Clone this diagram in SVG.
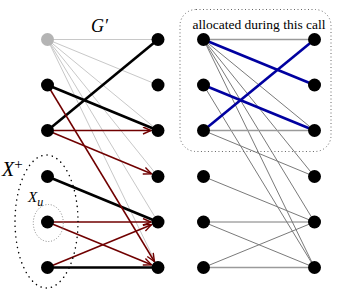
<svg xmlns="http://www.w3.org/2000/svg" width="341" height="295" viewBox="0 0 341 295">
<defs>
<style>
.n{fill:#000}
.ng{fill:#b4b4b4}
.lg{stroke:#c8c8c8;stroke-width:1;fill:none}
.bk{stroke:#000;stroke-width:2.6;fill:none}
.rd{stroke:#700000;stroke-width:1.5;fill:none;marker-end:url(#ah)}
.gr{stroke:#7a7a7a;stroke-width:1;fill:none}
.grh{stroke:#9a9a9a;stroke-width:1.5;fill:none}
.bl{stroke:#0000a0;stroke-width:2.6;fill:none}
.lbl{font-family:"Liberation Serif","Times New Roman",serif;fill:#000}
</style>
<marker id="ah" markerUnits="userSpaceOnUse" markerWidth="12" markerHeight="10" refX="9" refY="4" orient="auto">
<path d="M1,0.5 L9,4 L1,7.5" fill="none" stroke="#700000" stroke-width="1.4"/>
</marker>
</defs>
<g id="connectors">
<g id="left-gray">
<line class="lg" x1="47.5" y1="39.5" x2="158" y2="39.5"/>
<line class="lg" x1="47.5" y1="39.5" x2="158" y2="85"/>
<line class="lg" x1="47.5" y1="39.5" x2="158" y2="130.5"/>
<line class="lg" x1="47.5" y1="39.5" x2="158" y2="176.5"/>
<line class="lg" x1="47.5" y1="39.5" x2="158" y2="222"/>
<line class="lg" x1="47.5" y1="39.5" x2="158" y2="267.5"/>
</g>
<g id="left-black">
<line class="bk" x1="47.5" y1="130.5" x2="158" y2="39.5"/>
<line class="bk" x1="47.5" y1="85" x2="158" y2="130.5"/>
<line class="bk" x1="47.5" y1="176.5" x2="158" y2="222"/>
<line class="bk" x1="47.5" y1="267.5" x2="158" y2="267.5"/>
</g>
<g id="left-red">
<line class="rd" x1="47.5" y1="85" x2="154.4" y2="261.5"/>
<line class="rd" x1="47.5" y1="130.5" x2="151" y2="130.5"/>
<line class="rd" x1="47.5" y1="130.5" x2="151.5" y2="173.8"/>
<line class="rd" x1="47.5" y1="222" x2="151" y2="222"/>
<line class="rd" x1="47.5" y1="222" x2="151.5" y2="264.8"/>
<line class="rd" x1="47.5" y1="267.5" x2="151.5" y2="224.7"/>
</g>
<g id="right-gray">
<line class="grh" x1="203.5" y1="39.5" x2="314.5" y2="39.5"/>
<line class="gr" x1="203.5" y1="39.5" x2="314.5" y2="130.5"/>
<line class="gr" x1="203.5" y1="39.5" x2="314.5" y2="176.5"/>
<line class="gr" x1="203.5" y1="39.5" x2="314.5" y2="222"/>
<line class="gr" x1="203.5" y1="39.5" x2="314.5" y2="267.5"/>
<line class="gr" x1="203.5" y1="85" x2="314.5" y2="267.5"/>
<line class="grh" x1="203.5" y1="130.5" x2="314.5" y2="130.5"/>
<line class="gr" x1="203.5" y1="130.5" x2="314.5" y2="176.5"/>
<line class="gr" x1="203.5" y1="176.5" x2="314.5" y2="222"/>
<line class="gr" x1="203.5" y1="222" x2="314.5" y2="222"/>
<line class="gr" x1="203.5" y1="222" x2="314.5" y2="267.5"/>
<line class="gr" x1="203.5" y1="267.5" x2="314.5" y2="222"/>
<line class="grh" x1="203.5" y1="267.5" x2="314.5" y2="267.5"/>
</g>
<g id="right-blue">
<line class="bl" x1="203.5" y1="39.5" x2="314.5" y2="85"/>
<line class="bl" x1="203.5" y1="85" x2="314.5" y2="130.5"/>
<line class="bl" x1="203.5" y1="130.5" x2="314.5" y2="39.5"/>
</g>
</g>
<g id="regions">
<rect id="allocated-box" x="180" y="9.5" width="151" height="142" rx="16" ry="16" fill="none" stroke="#666" stroke-width="1" stroke-dasharray="1 2.5"/>
<ellipse id="X-plus" cx="46.5" cy="221.5" rx="31.5" ry="66.5" fill="none" stroke="#000" stroke-width="1.5" stroke-linecap="round" stroke-dasharray="0.1 5.2"/>
<ellipse id="X-u" cx="48.3" cy="223" rx="15" ry="18.5" fill="none" stroke="#888" stroke-width="1" stroke-dasharray="1 1.8"/>
</g>
<g id="nodes-left">
<circle id="L1" class="ng" cx="47.5" cy="39.5" r="6.5"/>
<circle id="L2" class="n" cx="47.5" cy="85" r="6.5"/>
<circle id="L3" class="n" cx="47.5" cy="130.5" r="6.5"/>
<circle id="L4" class="n" cx="47.5" cy="176.5" r="6.5"/>
<circle id="L5" class="n" cx="47.5" cy="222" r="6.5"/>
<circle id="L6" class="n" cx="47.5" cy="267.5" r="6.5"/>
<circle id="L1r" class="n" cx="158" cy="39.5" r="6.5"/>
<circle id="L2r" class="n" cx="158" cy="85" r="6.5"/>
<circle id="L3r" class="n" cx="158" cy="130.5" r="6.5"/>
<circle id="L4r" class="n" cx="158" cy="176.5" r="6.5"/>
<circle id="L5r" class="n" cx="158" cy="222" r="6.5"/>
<circle id="L6r" class="n" cx="158" cy="267.5" r="6.5"/>
</g>
<g id="nodes-right">
<circle id="R1" class="n" cx="203.5" cy="39.5" r="6.5"/>
<circle id="R2" class="n" cx="203.5" cy="85" r="6.5"/>
<circle id="R3" class="n" cx="203.5" cy="130.5" r="6.5"/>
<circle id="R4" class="n" cx="203.5" cy="176.5" r="6.5"/>
<circle id="R5" class="n" cx="203.5" cy="222" r="6.5"/>
<circle id="R6" class="n" cx="203.5" cy="267.5" r="6.5"/>
<circle id="R1r" class="n" cx="314.5" cy="39.5" r="6.5"/>
<circle id="R2r" class="n" cx="314.5" cy="85" r="6.5"/>
<circle id="R3r" class="n" cx="314.5" cy="130.5" r="6.5"/>
<circle id="R4r" class="n" cx="314.5" cy="176.5" r="6.5"/>
<circle id="R5r" class="n" cx="314.5" cy="222" r="6.5"/>
<circle id="R6r" class="n" cx="314.5" cy="267.5" r="6.5"/>
</g>
<g id="labels">
<text class="lbl" x="91" y="32" font-size="18" font-style="italic">G′</text>
<text class="lbl" x="259" y="29" font-size="13.5" text-anchor="middle">allocated during this call</text>
<text class="lbl" x="2" y="176" font-size="20" font-style="italic">X<tspan font-size="15" font-style="normal" dy="-7">+</tspan></text>
<text class="lbl" x="28" y="202" font-size="15" font-style="italic">X<tspan font-size="12" dy="4">u</tspan></text>
</g>
</svg>
